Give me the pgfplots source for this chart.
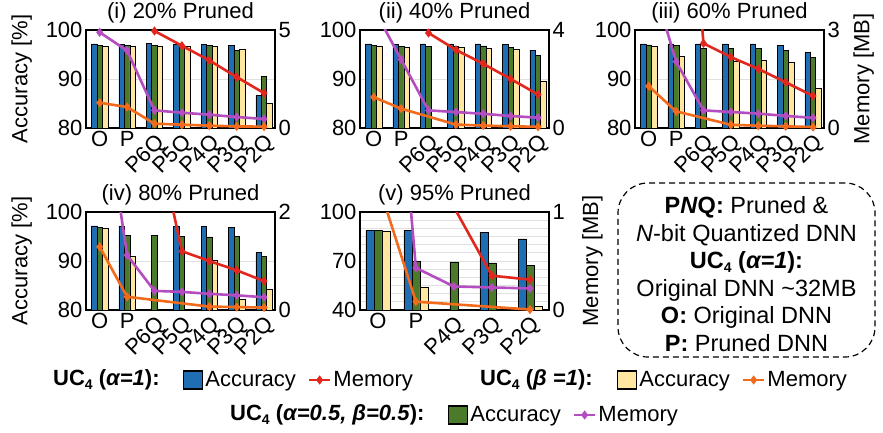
\documentclass[border=0pt]{standalone}
\usepackage{fontspec}
\setmainfont{Liberation Sans}
\usepackage{pgfplots}
\pgfplotsset{compat=1.18}

\definecolor{cblue}{HTML}{1F6DB2}
\definecolor{cgreen}{HTML}{4C7A2B}
\definecolor{cyellow}{HTML}{FFE6A1}
\definecolor{cred}{HTML}{E2281E}
\definecolor{corange}{HTML}{F26B1D}
\definecolor{cpurple}{HTML}{B44DBF}

\newcommand\fs{\fontsize{22}{24}\selectfont}
\newcommand\sub[1]{\raisebox{-4pt}{\fontsize{14}{14}\selectfont #1}}

\pgfplotsset{
  base/.style={scale only axis, width=189pt, height=98pt, xmin=-0.5, xmax=6.4,
     tick label style={font=\fs}, /pgf/number format/assume math mode=true,
     major tick length=0pt, minor tick length=0pt,
     axis line style={line width=2.2pt}, title style={font=\fs, yshift=-3pt}, label style={font=\fs}},
  accax/.style={base, ymin=80, ymax=100, ytick={80,90,100}, ymajorgrids,
     grid style={line width=0.8pt, black!12}, ytick pos=left,
     xtick={0,1}, xticklabels={O,P},
     extra x ticks={2,3,4,5,6}, extra x tick labels={P6Q,P5Q,P4Q,P3Q,P2Q},
     extra x tick style={grid=none, xticklabel style={rotate=45, anchor=north east}},
     ybar=0pt, bar width=0.2},
  memax/.style={base, axis x line=none, axis y line*=right, ymin=0, ymax=#1, ytick={0,#1}, clip=true},
  bb/.style={fill=cblue, draw=black, line width=0.6pt, bar shift=-0.2},
  bg/.style={fill=cgreen, draw=black, line width=0.6pt, bar shift=0},
  by/.style={fill=cyellow, draw=black, line width=0.6pt, bar shift=0.2},
  lr/.style={cred, line width=2.6pt, mark=diamond*, mark size=2.5pt, mark options={solid}},
  lp/.style={cpurple, line width=2.6pt, mark=diamond*, mark size=2.5pt, mark options={solid}},
  lo/.style={corange, line width=2.6pt, mark=diamond*, mark size=2.5pt, mark options={solid}},
  accylabel/.style={ylabel={Accuracy [\%]}, ylabel style={at={(axis description cs:-0.34,0.5)}, anchor=center}},
  memylabel/.style={ylabel={Memory [MB]}, ylabel style={at={(axis description cs:1.21,0.5)}, anchor=center}},
  legax/.style={at={(0pt,0pt)}, anchor=south west, scale only axis, width=883pt, height=432pt,
     hide axis, xmin=0, xmax=1, ymin=0, ymax=1,
     legend style={draw=none, fill=none, font=\fs, inner sep=0pt, legend columns=2,
        /tikz/every even column/.append style={column sep=10pt},
        /tikz/every odd column/.append style={column sep=0pt}}},
  boxleg/.style={legend image code/.code={\draw[##1, line width=1.2pt] (0pt,-9pt) rectangle (19pt,9pt);}},
  lineleg/.style={legend image code/.code={\draw[mark repeat=2, mark phase=2, ##1] plot coordinates {(0pt,0pt) (10.5pt,0pt) (21pt,0pt)};}},
}

\begin{document}
\begin{tikzpicture}
\path[use as bounding box] (0,0) rectangle (883pt,432pt);

% ---------------- (i) 20% ----------------
\begin{axis}[accax, at={(86pt,304pt)}, title={(i) 20\% Pruned}, accylabel]
\addplot[bb] coordinates {(0,97.15)(1,97.1)(2,97.2)(3,97.1)(4,97.1)(5,96.9)(6,86.6)};
\addplot[bg] coordinates {(0,96.9)(1,96.9)(2,96.8)(3,96.9)(4,96.9)(5,95.8)(6,90.6)};
\addplot[by] coordinates {(0,96.7)(1,96.6)(2,96.6)(3,96.6)(4,96.6)(5,96.1)(6,85.1)};
\end{axis}
\begin{axis}[memax=5, at={(86pt,304pt)}]
\addplot[lr] coordinates {(0,32)(1,25.6)(2,4.95)(3,4.2)(4,3.45)(5,2.6)(6,1.78)};
\addplot[lp] coordinates {(0,4.88)(1,3.95)(2,0.9)(3,0.78)(4,0.68)(5,0.56)(6,0.46)};
\addplot[lo] coordinates {(0,1.29)(1,1.07)(2,0.22)(3,0.17)(4,0.12)(5,0.08)(6,0.07)};
\end{axis}

% ---------------- (ii) 40% ----------------
\begin{axis}[accax, at={(360pt,304pt)}, title={(ii) 40\% Pruned}]
\addplot[bb] coordinates {(0,97.15)(1,97.1)(2,97.15)(3,97.15)(4,97.15)(5,97.1)(6,95.9)};
\addplot[bg] coordinates {(0,96.9)(1,96.7)(2,96.7)(3,96.7)(4,96.75)(5,96.5)(6,94.8)};
\addplot[by] coordinates {(0,96.7)(1,96.5)(3,96.5)(4,96.3)(5,96.0)(6,89.6)};
\end{axis}
\begin{axis}[memax=4, at={(360pt,304pt)}]
\addplot[lr] coordinates {(0,32)(1,19.2)(2,3.88)(3,3.19)(4,2.62)(5,2.0)(6,1.37)};
\addplot[lp] coordinates {(0,4.88)(1,2.8)(2,0.72)(3,0.65)(4,0.58)(5,0.49)(6,0.42)};
\addplot[lo] coordinates {(0,1.26)(1,0.79)(3,0.14)(4,0.1)(5,0.07)(6,0.05)};
\end{axis}

% ---------------- (iii) 60% ----------------
\begin{axis}[accax, at={(635pt,304pt)}, title={(iii) 60\% Pruned}]
\addplot[bb] coordinates {(0,97.15)(1,97.15)(2,97.15)(3,97.15)(4,97.15)(5,96.9)(6,95.4)};
\addplot[bg] coordinates {(0,96.95)(1,96.8)(2,96.3)(3,96.3)(4,96.3)(5,95.8)(6,94.4)};
\addplot[by] coordinates {(0,96.7)(1,94.6)(3,93.6)(4,93.9)(5,93.4)(6,88.1)};
\end{axis}
\begin{axis}[memax=3, at={(635pt,304pt)}, memylabel]
\addplot[lr] coordinates {(0,32)(1,12.8)(2,2.59)(3,2.17)(4,1.81)(5,1.40)(6,0.98)};
\addplot[lp] coordinates {(0,4.88)(1,2.03)(2,0.54)(3,0.49)(4,0.44)(5,0.37)(6,0.31)};
\addplot[lo] coordinates {(0,1.28)(1,0.51)(3,0.1)(4,0.07)(5,0.05)(6,0.03)};
\end{axis}

% ---------------- (iv) 80% ----------------
\begin{axis}[accax, at={(86pt,122pt)}, title={(iv) 80\% Pruned}, accylabel]
\addplot[bb] coordinates {(0,97.15)(1,97.15)(3,97.15)(4,97.1)(5,96.8)(6,91.7)};
\addplot[bg] coordinates {(0,96.9)(1,95.2)(2,95.2)(3,95.1)(4,94.9)(5,95.1)(6,90.9)};
\addplot[by] coordinates {(0,96.6)(1,91.0)(4,90.2)(5,82.2)(6,84.3)};
\end{axis}
\begin{axis}[memax=2, at={(86pt,122pt)}]
\addplot[lr] coordinates {(0,32)(1,6.4)(3,1.2)(4,1.0)(5,0.81)(6,0.59)};
\addplot[lp] coordinates {(0,4.88)(1,1.12)(2,0.39)(3,0.37)(4,0.33)(5,0.3)(6,0.26)};
\addplot[lo] coordinates {(0,1.29)(1,0.27)(4,0.07)(5,0.06)(6,0.05)};
\end{axis}

% ---------------- (v) 95% ----------------
\begin{axis}[accax, at={(360pt,122pt)}, title={(v) 95\% Pruned},
   xmin=-0.47, xmax=4.5, ymin=40, ymax=100, ytick={40,70,100},
   minor ytick={45,50,...,95}, yminorgrids, minor grid style={line width=0.8pt, black!12},
   bar width=0.21, xtick={0,1}, xticklabels={O,P},
   extra x ticks={2,3,4}, extra x tick labels={P4Q,P3Q,P2Q}]
\addplot[bb, bar shift=-0.21] coordinates {(0,88.8)(1,88.8)(3,87.6)(4,83.5)};
\addplot[bg] coordinates {(0,88.6)(1,69.9)(2,69.5)(3,68.9)(4,67.1)};
\addplot[by, bar shift=0.21] coordinates {(0,88.4)(1,53.8)(4,42.4)};
\end{axis}
\begin{axis}[memax=1, at={(360pt,122pt)}, xmin=-0.47, xmax=4.5, memylabel,
   ylabel style={at={(axis description cs:1.23,0.5)}}]
\addplot[lr] coordinates {(0,32)(1,1.75)(3,0.35)(4,0.31)};
\addplot[lp] coordinates {(0,4.88)(1,0.43)(2,0.24)(3,0.23)(4,0.22)};
\addplot[lo] coordinates {(0,1.3)(1,0.085)(4,0.005)};
\end{axis}

% ---------------- info box ----------------
\node[draw, dashed, dash pattern=on 6pt off 4pt, line width=1.2pt, rounded corners=30pt,
      minimum width=257pt, minimum height=174pt] at (746.5pt,162pt) {};
\node[align=center, font=\fontsize{23.5}{27.5}\selectfont] at (746.5pt,158pt)
  {\textbf{P\textit{N}Q:} Pruned \&\\
   \textit{N}-bit Quantized DNN\\
   \textbf{UC\sub{4} (\textit{α=1}):}\\
   Original DNN \textasciitilde32MB\\
   \textbf{O:} Original DNN\\
   \textbf{P:} Pruned DNN};

% ---------------- legends ----------------
\node[anchor=west, font=\fs, inner sep=0pt] at (53pt,52pt) {\textbf{UC\sub{4} (\textit{α=1}):}};
\node[anchor=west, font=\fs, inner sep=0pt] at (480pt,52pt) {\textbf{UC\sub{4} (\textit{β =1}):}};
\node[anchor=west, font=\fs, inner sep=0pt] at (230pt,17pt) {\textbf{UC\sub{4} (\textit{α=0.5, β=0.5}):}};

\begin{axis}[legax, legend style={at={(183/883,52/432)}, anchor=west}]
\addlegendimage{boxleg, fill=cblue, draw=black}
\addlegendentry{Accuracy}
\addlegendimage{lineleg, lr}
\addlegendentry{Memory}
\end{axis}
\begin{axis}[legax, legend style={at={(617/883,52/432)}, anchor=west}]
\addlegendimage{boxleg, fill=cyellow, draw=black}
\addlegendentry{Accuracy}
\addlegendimage{lineleg, lo}
\addlegendentry{Memory}
\end{axis}
\begin{axis}[legax, legend style={at={(448/883,17/432)}, anchor=west}]
\addlegendimage{boxleg, fill=cgreen, draw=black}
\addlegendentry{Accuracy}
\addlegendimage{lineleg, lp}
\addlegendentry{Memory}
\end{axis}
\end{tikzpicture}
\end{document}
